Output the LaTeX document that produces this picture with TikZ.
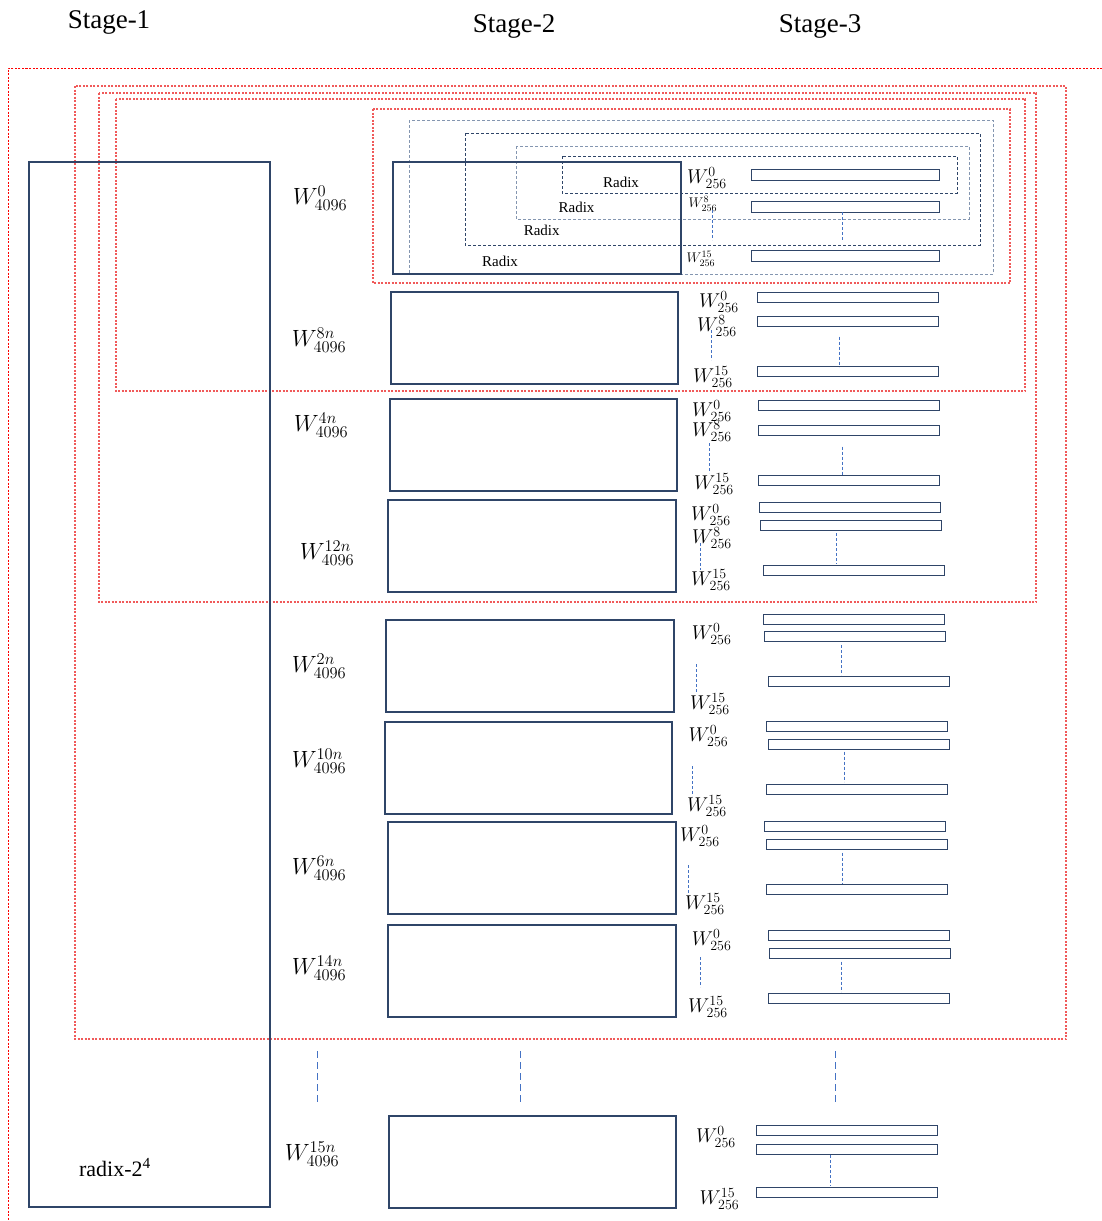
\RequirePackage{fix-cm}
\documentclass[tikz,border=0pt]{standalone}
\usepackage{fontspec}
\setmainfont{Liberation Serif}
\definecolor{navy}{RGB}{47,69,104}
\definecolor{slate}{RGB}{132,150,176}
\definecolor{wordblue}{RGB}{68,114,196}
\definecolor{pinkred}{RGB}{240,90,90}

\begin{document}
\begin{tikzpicture}[x=1pt,y=-1pt,
  stagebox/.style={draw=navy, line width=2pt, inner sep=0pt, minimum width=287.5pt, minimum height=92pt},
  bar/.style={draw=navy, line width=1pt, inner sep=0pt, minimum width=181pt, minimum height=10pt},
  reddot/.style={draw=red, line width=1pt, dash pattern=on 2pt off 1.5pt},
  pinkdot/.style={draw=pinkred, line width=1.3pt, dash pattern=on 2pt off 1.5pt},
  graydash/.style={draw=slate, line width=1pt, dash pattern=on 3pt off 2pt},
  navydash/.style={draw=navy, line width=1pt, dash pattern=on 3pt off 2pt},
  vdots/.style={draw=wordblue, line width=0.9pt, dash pattern=on 3pt off 2pt},
  gapline/.style={draw=wordblue, line width=1pt, dash pattern=on 7pt off 4pt},
  stagetxt/.style={font=\fontsize{27}{31}\selectfont},
  bigw/.style={font=\fontsize{23.5}{27}\selectfont},
  midw/.style={font=\fontsize{20}{23}\selectfont},
  tinyw/.style={font=\fontsize{14}{16}\selectfont},
  radixtxt/.style={font=\fontsize{15}{18}\selectfont}
]
\useasboundingbox (0,0) rectangle (1102,1221);

\node[stagetxt] (t1) at (109,22) {Stage-1};
\node[stagetxt] (t2) at (514,26) {Stage-2};
\node[stagetxt] (t3) at (820,26) {Stage-3};

\draw[reddot] (1102,68) -- (8,68) -- (8,1221);
\draw[pinkdot] (75,86) rectangle (1066,1039);
\draw[pinkdot] (99,93) rectangle (1036,602);
\draw[pinkdot] (116,99) rectangle (1025,391);
\draw[pinkdot] (373,109) rectangle (1010,283);
\draw[graydash] (409,120) rectangle (993,274);
\draw[navydash] (465,133) rectangle (980,245);
\draw[graydash] (516,146) rectangle (969,219);
\draw[navydash] (562,156) rectangle (957,193);

\node[stagebox, minimum width=241pt, minimum height=1045pt] (s1) at (149.5,684.5) {};
\node[font=\fontsize{22}{26}\selectfont] (rx) at (115,1168) {radix-2\textsuperscript{4}};

\node[stagebox, minimum width=288pt, minimum height=112pt] (k0) at (536.5,218) {};
\node[stagebox] (k8) at (534.6,338.3) {};
\node[stagebox] (k4) at (533.3,444.5) {};
\node[stagebox] (k12) at (531.8,546.2) {};
\node[stagebox] (k2) at (530.1,665.5) {};
\node[stagebox] (k10) at (528.7,767.7) {};
\node[stagebox] (k6) at (531.8,867.9) {};
\node[stagebox] (k14) at (531.8,971.2) {};
\node[stagebox] (k15) at (532.3,1161.7) {};

\node[radixtxt] (r1) at (621,182.7) {Radix};
\node[radixtxt] (r2) at (576.5,207.7) {Radix};
\node[radixtxt] (r3) at (541.7,230.7) {Radix};
\node[radixtxt] (r4) at (500,261) {Radix};

\node[bigw] (l0) at (320,198) {$W^{0}_{4096}$};
\node[bigw] (l8) at (319,340) {$W^{8n}_{4096}$};
\node[bigw] (l4) at (321,425) {$W^{4n}_{4096}$};
\node[bigw] (l12) at (327,553) {$W^{12n}_{4096}$};
\node[bigw] (l2) at (319,666) {$W^{2n}_{4096}$};
\node[bigw] (l10) at (319,761) {$W^{10n}_{4096}$};
\node[bigw] (l6) at (319,868) {$W^{6n}_{4096}$};
\node[bigw] (l14) at (319,968) {$W^{14n}_{4096}$};
\node[bigw] (l15) at (312,1154) {$W^{15n}_{4096}$};

\node[bar, minimum width=188pt, minimum height=11pt] (b0a) at (845,174.8) {};
\node[bar, minimum width=188pt, minimum height=11pt] (b0b) at (845,206.7) {};
\node[bar, minimum width=188pt, minimum height=11pt] (b0c) at (845,255.5) {};
\node[bar] (b8a) at (848,297.3) {};
\node[bar] (b8b) at (848,321.7) {};
\node[bar] (b8c) at (848,371.8) {};
\node[bar] (b4a) at (849.4,405.8) {};
\node[bar] (b4b) at (849.4,430) {};
\node[bar] (b4c) at (849.4,480.5) {};
\node[bar] (b12a) at (849.5,507.7) {};
\node[bar] (b12b) at (851,525.3) {};
\node[bar] (b12c) at (854,570.3) {};
\node[bar] (b2a) at (854,619) {};
\node[bar] (b2b) at (855.4,636.7) {};
\node[bar] (b2c) at (858.5,681.3) {};
\node[bar] (b10a) at (857.2,726.4) {};
\node[bar] (b10b) at (858.5,744.2) {};
\node[bar] (b10c) at (856.8,789) {};
\node[bar] (b6a) at (855.4,826.7) {};
\node[bar] (b6b) at (856.8,844.3) {};
\node[bar] (b6c) at (856.8,889.3) {};
\node[bar] (b14a) at (858.5,935.5) {};
\node[bar] (b14b) at (860.4,953.2) {};
\node[bar] (b14c) at (858.5,998) {};
\node[bar] (b15a) at (847.3,1130) {};
\node[bar] (b15b) at (847.3,1149) {};
\node[bar] (b15c) at (847.3,1192.3) {};

\node[midw] (w0a) at (707,178) {$W^{0}_{256}$};
\node[tinyw] (w0b) at (703,204) {$W^{8}_{256}$};
\node[tinyw] (w0c) at (701,259) {$W^{15}_{256}$};
\node[midw] (w8a) at (719,302) {$W^{0}_{256}$};
\node[midw] (w8b) at (717,326) {$W^{8}_{256}$};
\node[midw] (w8c) at (713,377) {$W^{15}_{256}$};
\node[midw] (w4a) at (712,411) {$W^{0}_{256}$};
\node[midw] (w4b) at (712,431) {$W^{8}_{256}$};
\node[midw] (w4c) at (714,484) {$W^{15}_{256}$};
\node[midw] (w12a) at (711,515) {$W^{0}_{256}$};
\node[midw] (w12b) at (712,538) {$W^{8}_{256}$};
\node[midw] (w12c) at (711,580) {$W^{15}_{256}$};
\node[midw] (w2a) at (711.6,634) {$W^{0}_{256}$};
\node[midw] (w2c) at (710,704) {$W^{15}_{256}$};
\node[midw] (w10a) at (708.5,736) {$W^{0}_{256}$};
\node[midw] (w10c) at (707,806) {$W^{15}_{256}$};
\node[midw] (w6a) at (700,836) {$W^{0}_{256}$};
\node[midw] (w6c) at (705,904) {$W^{15}_{256}$};
\node[midw] (w14a) at (711.6,940) {$W^{0}_{256}$};
\node[midw] (w14c) at (708,1007) {$W^{15}_{256}$};
\node[midw] (w15a) at (716,1137) {$W^{0}_{256}$};
\node[midw] (w15c) at (719.5,1199) {$W^{15}_{256}$};

\draw[vdots] (842,212) -- (842,241);
\draw[vdots] (839.7,336.7) -- (839.7,366.7);
\draw[vdots] (842.5,446.7) -- (842.5,476);
\draw[vdots] (836.5,533) -- (836.5,564);
\draw[vdots] (841,645) -- (841,675);
\draw[vdots] (844.3,751.7) -- (844.3,781.7);
\draw[vdots] (842.5,852.7) -- (842.5,883.3);
\draw[vdots] (841,961.7) -- (841,991.7);
\draw[vdots] (830,1155) -- (830,1186);

\draw[vdots] (712.7,210) -- (712.7,240);
\draw[vdots] (711.7,330) -- (711.7,360);
\draw[vdots] (709,443) -- (709,473);
\draw[vdots] (700,543) -- (700,570);
\draw[vdots] (696.6,664) -- (696.6,693);
\draw[vdots] (692.5,766) -- (692.5,796);
\draw[vdots] (688.8,865) -- (688.8,895);
\draw[vdots] (700,957) -- (700,987);

\draw[gapline] (317,1051) -- (317,1103);
\draw[gapline] (520.7,1051) -- (520.7,1103);
\draw[gapline] (835.6,1051) -- (835.6,1103);
\end{tikzpicture}
\end{document}
